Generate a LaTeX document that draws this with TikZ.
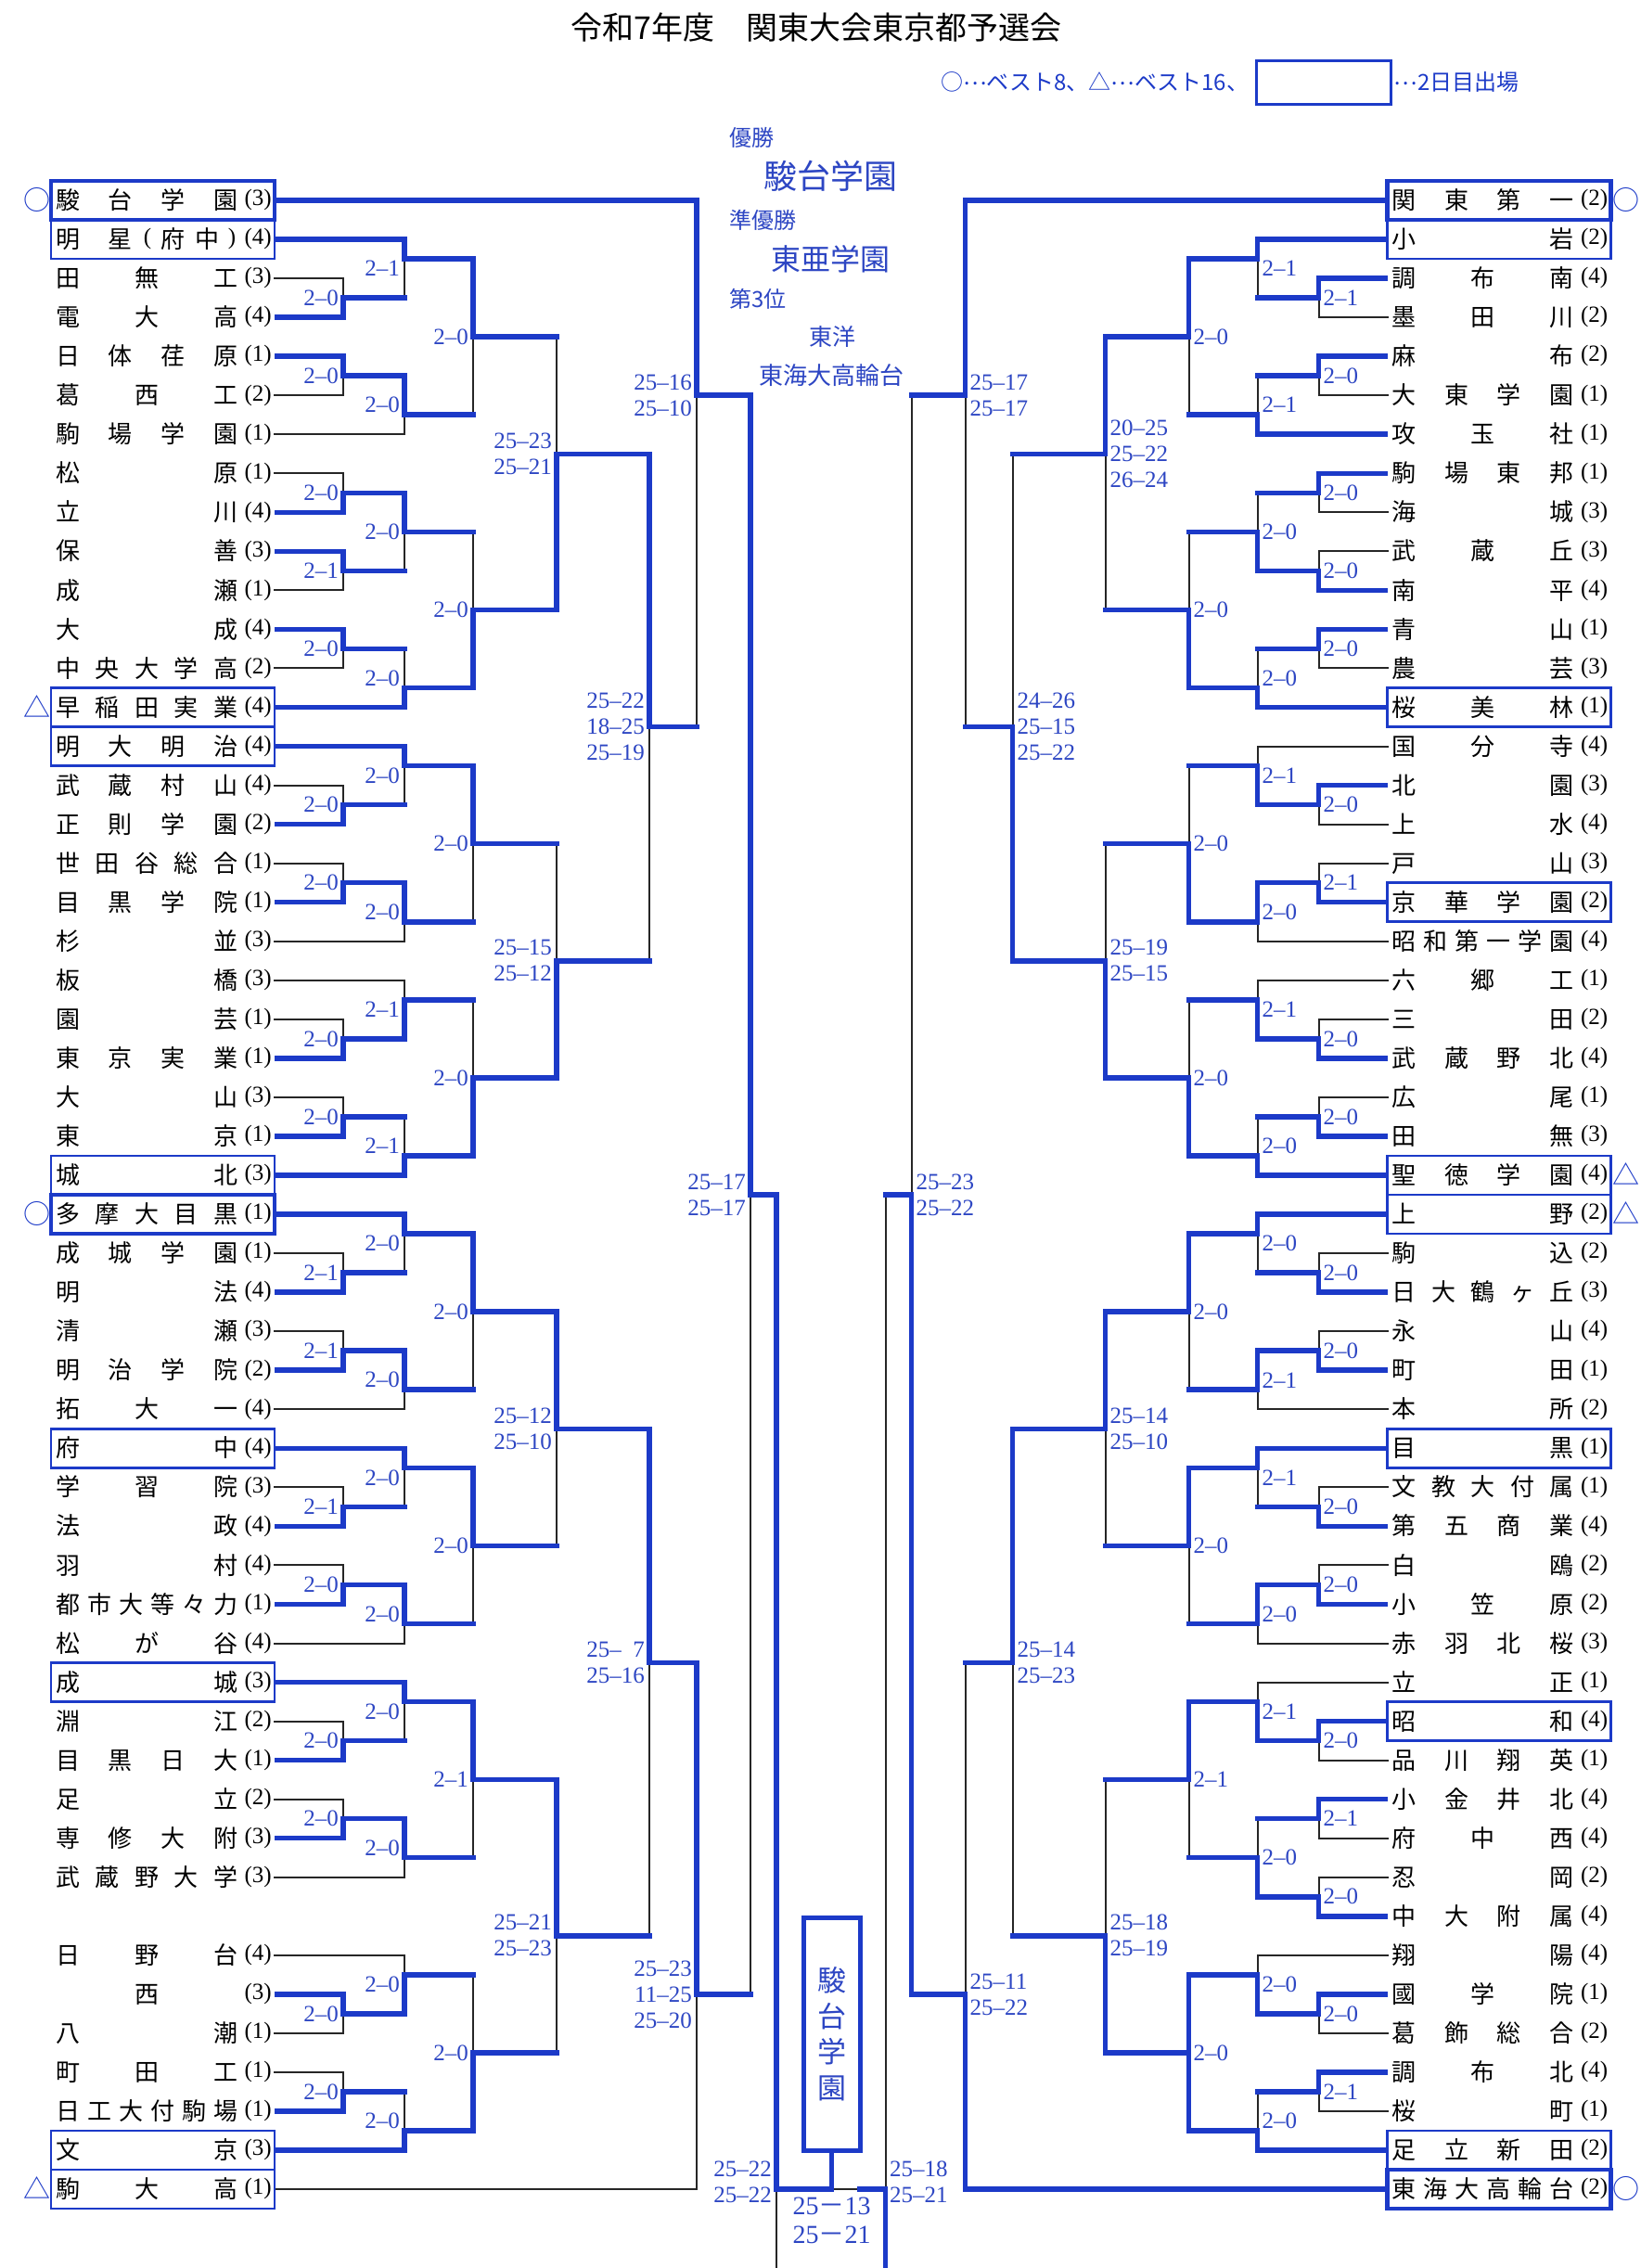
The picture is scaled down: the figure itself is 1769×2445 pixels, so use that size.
\documentclass[tikz,border=0pt]{standalone}
\usepackage{fontspec}
\setmainfont{Liberation Serif}
\newfontfamily\cjk{Noto Sans CJK JP}
\definecolor{bl}{RGB}{28,58,200}
\definecolor{lb}{RGB}{45,70,195}
\pgfdeclarelayer{bg}
\pgfdeclarelayer{back}
\pgfsetlayers{bg,back,main}
\newcounter{nd}
\tikzset{
 W/.style={draw=bl,line width=5.5pt,line cap=rect,line join=miter},
 Ls/.style={draw=black!85,line width=2pt,line cap=rect},
 nm/.style={font=\cjk\fontsize{26}{30}\selectfont,inner sep=0pt,anchor=base},
 num/.style={font=\fontsize{25}{30}\selectfont,inner sep=0pt,anchor=base east},
 sc/.style={font=\fontsize{25}{28}\selectfont,text=lb,inner sep=0pt},
 ct/.style={font=\cjk\fontsize{#1}{#1}\selectfont,text=lb,inner sep=0pt},
 mk/.style={font=\cjk\fontsize{29}{32}\selectfont,text=bl,inner sep=0pt,anchor=base},
 bxa/.style={draw=bl,line width=2.5pt},
 bxb/.style={draw=bl,line width=4.5pt},
}
\newcommand\RY[1]{(216+42.04*(#1))}
\newcommand\Mtch[6]{%
 \if t#5
  \draw[W] (#1,{\RY{#2}}) -- (#1,{\RY{#3}}) -- (#6,{\RY{#3}});
  \begin{pgfonlayer}{back}\draw[Ls] (#1,{\RY{#3}}) -- (#1,{\RY{#4}});\end{pgfonlayer}
 \else\if b#5
  \draw[W] (#1,{\RY{#4}}) -- (#1,{\RY{#3}}) -- (#6,{\RY{#3}});
  \begin{pgfonlayer}{back}\draw[Ls] (#1,{\RY{#2}}) -- (#1,{\RY{#3}});\end{pgfonlayer}
 \else
  \draw[W] (#1,{\RY{#2}}) -- (#1,{\RY{#4}});
  \draw[W] (#1,{\RY{#3}}) -- (#6,{\RY{#3}});
 \fi\fi}
\newcommand\LM[8]{\Mtch{#1}{#2}{#3}{#4}{#5}{#6}\stepcounter{nd}\node[sc,anchor=east,align=right] (s\arabic{nd}) at (#1-5,{\RY{#8}}) {#7};}
\newcommand\RM[8]{\Mtch{#1}{#2}{#3}{#4}{#5}{#6}\stepcounter{nd}\node[sc,anchor=west,align=left] (s\arabic{nd}) at (#1+5,{\RY{#8}}) {#7};}
\newcommand\TN[5]{%
 \foreach \tkch [count=\ti] in {#3} {\xdef\ncnt{\ti}}%
 \foreach \tkch [count=\ti] in {#3} {%
  \pgfmathsetmacro\xx{\ncnt==1 ? #1+85 : #1+170*(\ti-1)/max(\ncnt-1,1)}%
  \node[nm] (#5c\ti) at (\xx,{\RY{#2}+9.6}) {\tkch};}%
 \node[num] (#5n) at (#1+220,{\RY{#2}+5.8}) {(#4)};}
\newcommand\TL[5]{%
 \coordinate (#1) at (#2,{\RY{#3}});
 \if t#5 \draw[W,line cap=butt] (#1) -- (#4,{\RY{#3}});
 \else \begin{pgfonlayer}{back}\draw[Ls] (#1) -- (#4,{\RY{#3}});\end{pgfonlayer}\fi}
\newcommand\LT[5]{\TN{73}{#1}{#2}{#3}{Lt#1}\TL{L#1}{296}{#1}{#4}{#5}}
\newcommand\RT[5]{\TN{1513.5}{#1}{#2}{#3}{Rt#1}\TL{R#1}{1495.5}{#1}{#4}{#5}}
\newcommand\BX[3]{\draw[#3] (#1,{\RY{#2}-21}) rectangle ++(241,42);}
\newcommand\elp{\raisebox{6pt}{…}}
\begin{document}
\begin{tikzpicture}[x=1pt,y=-1pt]
\useasboundingbox (0,0) rectangle (1769,2445);
\begin{pgfonlayer}{bg}\fill[white] (0,0) rectangle (1769,2445);\end{pgfonlayer}
% title and legend
\node[font=\cjk\fontsize{34}{40}\selectfont,inner sep=0pt] (title) at (880,30) {令和7年度　関東大会東京都予選会};
\node[draw=bl,line width=3pt,minimum width=145pt,minimum height=47pt,inner sep=0pt] (lgbox) at (1426.5,88.5) {};
\node[ct=24,text=bl,anchor=east] (lg1) at ([xshift=-6pt]lgbox.west) {○\elp ベスト8、△\elp ベスト16、};
\node[ct=24,text=bl,anchor=west] (lg2) at ([xshift=2pt]lgbox.east) {\elp 2日目出場};
% results
\node[ct=24,anchor=west] (yu) at (786,148) {優勝};
\node[ct=36] (win) at (895,190) {駿台学園};
\node[ct=24,anchor=west] (ju) at (786,237) {準優勝};
\node[ct=32] (run) at (895,279) {東亜学園};
\node[ct=24,anchor=west] (th) at (786,322) {第3位};
\node[ct=25] (t1) at (897,363) {東洋};
\node[ct=26] (t2) at (896,405) {東海大高輪台};
% ---------- left teams
\LT{0}{駿,台,学,園}{3}{751}{t}
\node[nm] (Lt1c1) at (73,{\RY{1}+9.6}) {明};
\node[nm] (Lt1c2) at (129,{\RY{1}+9.6}) {星};
\node[num,anchor=base] (Lt1c3) at (159,{\RY{1}+5.8}) {(};
\node[nm] (Lt1c4) at (186,{\RY{1}+9.6}) {府};
\node[nm] (Lt1c5) at (223,{\RY{1}+9.6}) {中};
\node[num,anchor=base] (Lt1c6) at (250,{\RY{1}+5.8}) {)};
\node[num] (Lt1n) at (293,{\RY{1}+5.8}) {(4)};
\TL{L1}{296}{1}{436}{t}
\LT{2}{田,無,工}{3}{370}{n}
\LT{3}{電,大,高}{4}{370}{t}
\LT{4}{日,体,荏,原}{1}{370}{t}
\LT{5}{葛,西,工}{2}{370}{n}
\LT{6}{駒,場,学,園}{1}{436}{n}
\LT{7}{松,原}{1}{370}{n}
\LT{8}{立,川}{4}{370}{t}
\LT{9}{保,善}{3}{370}{t}
\LT{10}{成,瀬}{1}{370}{n}
\LT{11}{大,成}{4}{370}{t}
\LT{12}{中,央,大,学,高}{2}{370}{n}
\LT{13}{早,稲,田,実,業}{4}{436}{t}
\LT{14}{明,大,明,治}{4}{436}{t}
\LT{15}{武,蔵,村,山}{4}{370}{n}
\LT{16}{正,則,学,園}{2}{370}{t}
\LT{17}{世,田,谷,総,合}{1}{370}{n}
\LT{18}{目,黒,学,院}{1}{370}{t}
\LT{19}{杉,並}{3}{436}{n}
\LT{20}{板,橋}{3}{436}{n}
\LT{21}{園,芸}{1}{370}{n}
\LT{22}{東,京,実,業}{1}{370}{t}
\LT{23}{大,山}{3}{370}{n}
\LT{24}{東,京}{1}{370}{t}
\LT{25}{城,北}{3}{436}{t}
\LT{26}{多,摩,大,目,黒}{1}{436}{t}
\LT{27}{成,城,学,園}{1}{370}{n}
\LT{28}{明,法}{4}{370}{t}
\LT{29}{清,瀬}{3}{370}{n}
\LT{30}{明,治,学,院}{2}{370}{t}
\LT{31}{拓,大,一}{4}{436}{n}
\LT{32}{府,中}{4}{436}{t}
\LT{33}{学,習,院}{3}{370}{n}
\LT{34}{法,政}{4}{370}{t}
\LT{35}{羽,村}{4}{370}{n}
\LT{36}{都,市,大,等,々,力}{1}{370}{t}
\LT{37}{松,が,谷}{4}{436}{n}
\LT{38}{成,城}{3}{436}{t}
\LT{39}{淵,江}{2}{370}{n}
\LT{40}{目,黒,日,大}{1}{370}{t}
\LT{41}{足,立}{2}{370}{n}
\LT{42}{専,修,大,附}{3}{370}{t}
\LT{43}{武,蔵,野,大,学}{3}{436}{n}
\LT{45}{日,野,台}{4}{436}{n}
\LT{46}{西}{3}{370}{t}
\LT{47}{八,潮}{1}{370}{n}
\LT{48}{町,田,工}{1}{370}{n}
\LT{49}{日,工,大,付,駒,場}{1}{370}{t}
\LT{50}{文,京}{3}{436}{t}
\LT{51}{駒,大,高}{1}{751}{n}
% ---------- right teams
\RT{0}{関,東,第,一}{2}{1040.5}{t}
\RT{1}{小,岩}{2}{1355.5}{t}
\RT{2}{調,布,南}{4}{1421.5}{t}
\RT{3}{墨,田,川}{2}{1421.5}{n}
\RT{4}{麻,布}{2}{1421.5}{t}
\RT{5}{大,東,学,園}{1}{1421.5}{n}
\RT{6}{攻,玉,社}{1}{1355.5}{t}
\RT{7}{駒,場,東,邦}{1}{1421.5}{t}
\RT{8}{海,城}{3}{1421.5}{n}
\RT{9}{武,蔵,丘}{3}{1421.5}{n}
\RT{10}{南,平}{4}{1421.5}{t}
\RT{11}{青,山}{1}{1421.5}{t}
\RT{12}{農,芸}{3}{1421.5}{n}
\RT{13}{桜,美,林}{1}{1355.5}{t}
\RT{14}{国,分,寺}{4}{1355.5}{n}
\RT{15}{北,園}{3}{1421.5}{t}
\RT{16}{上,水}{4}{1421.5}{n}
\RT{17}{戸,山}{3}{1421.5}{n}
\RT{18}{京,華,学,園}{2}{1421.5}{t}
\RT{19}{昭,和,第,一,学,園}{4}{1355.5}{n}
\RT{20}{六,郷,工}{1}{1355.5}{n}
\RT{21}{三,田}{2}{1421.5}{n}
\RT{22}{武,蔵,野,北}{4}{1421.5}{t}
\RT{23}{広,尾}{1}{1421.5}{n}
\RT{24}{田,無}{3}{1421.5}{t}
\RT{25}{聖,徳,学,園}{4}{1355.5}{t}
\RT{26}{上,野}{2}{1355.5}{t}
\RT{27}{駒,込}{2}{1421.5}{n}
\RT{28}{日,大,鶴,ヶ,丘}{3}{1421.5}{t}
\RT{29}{永,山}{4}{1421.5}{n}
\RT{30}{町,田}{1}{1421.5}{t}
\RT{31}{本,所}{2}{1355.5}{n}
\RT{32}{目,黒}{1}{1355.5}{t}
\RT{33}{文,教,大,付,属}{1}{1421.5}{n}
\RT{34}{第,五,商,業}{4}{1421.5}{t}
\RT{35}{白,鴎}{2}{1421.5}{n}
\RT{36}{小,笠,原}{2}{1421.5}{t}
\RT{37}{赤,羽,北,桜}{3}{1355.5}{n}
\RT{38}{立,正}{1}{1355.5}{n}
\RT{39}{昭,和}{4}{1421.5}{t}
\RT{40}{品,川,翔,英}{1}{1421.5}{n}
\RT{41}{小,金,井,北}{4}{1421.5}{t}
\RT{42}{府,中,西}{4}{1421.5}{n}
\RT{43}{忍,岡}{2}{1421.5}{n}
\RT{44}{中,大,附,属}{4}{1421.5}{t}
\RT{45}{翔,陽}{4}{1355.5}{n}
\RT{46}{國,学,院}{1}{1421.5}{t}
\RT{47}{葛,飾,総,合}{2}{1421.5}{n}
\RT{48}{調,布,北}{4}{1421.5}{t}
\RT{49}{桜,町}{1}{1421.5}{n}
\RT{50}{足,立,新,田}{2}{1355.5}{t}
\RT{51}{東,海,大,高,輪,台}{2}{1040.5}{t}
% ---------- boxes
\BX{55}{1}{bxa}\BX{55}{13}{bxa}\BX{55}{14}{bxa}\BX{55}{25}{bxa}
\BX{55}{32}{bxa}\BX{55}{38}{bxa}\BX{55}{50}{bxa}\BX{55}{51}{bxa}
\BX{55}{0}{bxb}\BX{55}{26}{bxb}
\BX{1495.5}{1}{bxa}\BX{1495.5}{13}{bxa}\BX{1495.5}{18}{bxa}\BX{1495.5}{25}{bxa}
\BX{1495.5}{26}{bxa}\BX{1495.5}{32}{bxa}\BX{1495.5}{39}{bxa}\BX{1495.5}{50}{bxa}
\BX{1495.5}{0}{bxb}\BX{1495.5}{51}{bxb}
% ---------- markers
\node[mk] (mL0) at (39.5,{\RY{0}+10.5}) {○};
\node[mk] (mL26) at (39.5,{\RY{26}+10.5}) {○};
\node[mk] (mL13) at (39.5,{\RY{13}+10.5}) {△};
\node[mk] (mL51) at (39.5,{\RY{51}+10.5}) {△};
\node[mk] (mR0) at (1753,{\RY{0}+10.5}) {○};
\node[mk] (mR51) at (1753,{\RY{51}+10.5}) {○};
\node[mk] (mR25) at (1753,{\RY{25}+10.5}) {△};
\node[mk] (mR26) at (1753,{\RY{26}+10.5}) {△};
% ---------- left matches
\LM{370}{2}{2.5}{3}{b}{436}{2--0}{2.5}
\LM{370}{4}{4.5}{5}{t}{436}{2--0}{4.5}
\LM{370}{7}{7.5}{8}{b}{436}{2--0}{7.5}
\LM{370}{9}{9.5}{10}{t}{436}{2--1}{9.5}
\LM{370}{11}{11.5}{12}{t}{436}{2--0}{11.5}
\LM{370}{15}{15.5}{16}{b}{436}{2--0}{15.5}
\LM{370}{17}{17.5}{18}{b}{436}{2--0}{17.5}
\LM{370}{21}{21.5}{22}{b}{436}{2--0}{21.5}
\LM{370}{23}{23.5}{24}{b}{436}{2--0}{23.5}
\LM{370}{27}{27.5}{28}{b}{436}{2--1}{27.5}
\LM{370}{29}{29.5}{30}{b}{436}{2--1}{29.5}
\LM{370}{33}{33.5}{34}{b}{436}{2--1}{33.5}
\LM{370}{35}{35.5}{36}{b}{436}{2--0}{35.5}
\LM{370}{39}{39.5}{40}{b}{436}{2--0}{39.5}
\LM{370}{41}{41.5}{42}{b}{436}{2--0}{41.5}
\LM{370}{46}{46.5}{47}{t}{436}{2--0}{46.5}
\LM{370}{48}{48.5}{49}{b}{436}{2--0}{48.5}
\LM{436}{1}{1.5}{2.5}{t}{510}{2--1}{1.75}
\LM{436}{4.5}{5.5}{6}{t}{510}{2--0}{5.25}
\LM{436}{7.5}{8.5}{9.5}{t}{510}{2--0}{8.5}
\LM{436}{11.5}{12.5}{13}{b}{510}{2--0}{12.25}
\LM{436}{14}{14.5}{15.5}{t}{510}{2--0}{14.75}
\LM{436}{17.5}{18.5}{19}{t}{510}{2--0}{18.25}
\LM{436}{20}{20.5}{21.5}{b}{510}{2--1}{20.75}
\LM{436}{23.5}{24.5}{25}{b}{510}{2--1}{24.25}
\LM{436}{26}{26.5}{27.5}{t}{510}{2--0}{26.75}
\LM{436}{29.5}{30.5}{31}{t}{510}{2--0}{30.25}
\LM{436}{32}{32.5}{33.5}{t}{510}{2--0}{32.75}
\LM{436}{35.5}{36.5}{37}{t}{510}{2--0}{36.25}
\LM{436}{38}{38.5}{39.5}{t}{510}{2--0}{38.75}
\LM{436}{41.5}{42.5}{43}{t}{510}{2--0}{42.25}
\LM{436}{45}{45.5}{46.5}{b}{510}{2--0}{45.75}
\LM{436}{48.5}{49.5}{50}{b}{510}{2--0}{49.25}
\LM{510}{1.5}{3.5}{5.5}{t}{600}{2--0}{3.5}
\LM{510}{8.5}{10.5}{12.5}{b}{600}{2--0}{10.5}
\LM{510}{14.5}{16.5}{18.5}{t}{600}{2--0}{16.5}
\LM{510}{20.5}{22.5}{24.5}{b}{600}{2--0}{22.5}
\LM{510}{26.5}{28.5}{30.5}{t}{600}{2--0}{28.5}
\LM{510}{32.5}{34.5}{36.5}{t}{600}{2--0}{34.5}
\LM{510}{38.5}{40.5}{42.5}{t}{600}{2--1}{40.5}
\LM{510}{45.5}{47.5}{49.5}{b}{600}{2--0}{47.5}
\LM{600}{3.5}{6.5}{10.5}{b}{700}{25--23\\25--21}{6.5}
\LM{600}{16.5}{19.5}{22.5}{b}{700}{25--15\\25--12}{19.5}
\LM{600}{28.5}{31.5}{34.5}{t}{700}{25--12\\25--10}{31.5}
\LM{600}{40.5}{44.5}{47.5}{t}{700}{25--21\\25--23}{44.5}
\LM{700}{6.5}{13.5}{19.5}{t}{751}{25--22\\18--25\\25--19}{13.5}
\LM{700}{31.5}{37.5}{44.5}{t}{751}{25--\phantom{0}7\\25--16}{37.5}
\LM{751}{0}{5}{13.5}{t}{809}{25--16\\25--10}{5}
\LM{751}{37.5}{46}{51}{t}{809}{25--23\\11--25\\25--20}{46}
\LM{809}{5}{25.5}{46}{t}{837}{25--17\\25--17}{25.5}
% ---------- right matches
\RM{1421.5}{2}{2.5}{3}{t}{1355.5}{2--1}{2.5}
\RM{1421.5}{4}{4.5}{5}{t}{1355.5}{2--0}{4.5}
\RM{1421.5}{7}{7.5}{8}{t}{1355.5}{2--0}{7.5}
\RM{1421.5}{9}{9.5}{10}{b}{1355.5}{2--0}{9.5}
\RM{1421.5}{11}{11.5}{12}{t}{1355.5}{2--0}{11.5}
\RM{1421.5}{15}{15.5}{16}{t}{1355.5}{2--0}{15.5}
\RM{1421.5}{17}{17.5}{18}{b}{1355.5}{2--1}{17.5}
\RM{1421.5}{21}{21.5}{22}{b}{1355.5}{2--0}{21.5}
\RM{1421.5}{23}{23.5}{24}{b}{1355.5}{2--0}{23.5}
\RM{1421.5}{27}{27.5}{28}{b}{1355.5}{2--0}{27.5}
\RM{1421.5}{29}{29.5}{30}{b}{1355.5}{2--0}{29.5}
\RM{1421.5}{33}{33.5}{34}{b}{1355.5}{2--0}{33.5}
\RM{1421.5}{35}{35.5}{36}{b}{1355.5}{2--0}{35.5}
\RM{1421.5}{39}{39.5}{40}{t}{1355.5}{2--0}{39.5}
\RM{1421.5}{41}{41.5}{42}{t}{1355.5}{2--1}{41.5}
\RM{1421.5}{43}{43.5}{44}{b}{1355.5}{2--0}{43.5}
\RM{1421.5}{46}{46.5}{47}{t}{1355.5}{2--0}{46.5}
\RM{1421.5}{48}{48.5}{49}{t}{1355.5}{2--1}{48.5}
\RM{1355.5}{1}{1.5}{2.5}{t}{1281.5}{2--1}{1.75}
\RM{1355.5}{4.5}{5.5}{6}{b}{1281.5}{2--1}{5.25}
\RM{1355.5}{7.5}{8.5}{9.5}{b}{1281.5}{2--0}{8.5}
\RM{1355.5}{11.5}{12.5}{13}{b}{1281.5}{2--0}{12.25}
\RM{1355.5}{14}{14.5}{15.5}{b}{1281.5}{2--1}{14.75}
\RM{1355.5}{17.5}{18.5}{19}{t}{1281.5}{2--0}{18.25}
\RM{1355.5}{20}{20.5}{21.5}{b}{1281.5}{2--1}{20.75}
\RM{1355.5}{23.5}{24.5}{25}{b}{1281.5}{2--0}{24.25}
\RM{1355.5}{26}{26.5}{27.5}{t}{1281.5}{2--0}{26.75}
\RM{1355.5}{29.5}{30.5}{31}{t}{1281.5}{2--1}{30.25}
\RM{1355.5}{32}{32.5}{33.5}{t}{1281.5}{2--1}{32.75}
\RM{1355.5}{35.5}{36.5}{37}{t}{1281.5}{2--0}{36.25}
\RM{1355.5}{38}{38.5}{39.5}{b}{1281.5}{2--1}{38.75}
\RM{1355.5}{41.5}{42.5}{43.5}{b}{1281.5}{2--0}{42.5}
\RM{1355.5}{45}{45.5}{46.5}{b}{1281.5}{2--0}{45.75}
\RM{1355.5}{48.5}{49.5}{50}{b}{1281.5}{2--0}{49.25}
\RM{1281.5}{1.5}{3.5}{5.5}{t}{1191.5}{2--0}{3.5}
\RM{1281.5}{8.5}{10.5}{12.5}{b}{1191.5}{2--0}{10.5}
\RM{1281.5}{14.5}{16.5}{18.5}{b}{1191.5}{2--0}{16.5}
\RM{1281.5}{20.5}{22.5}{24.5}{b}{1191.5}{2--0}{22.5}
\RM{1281.5}{26.5}{28.5}{30.5}{t}{1191.5}{2--0}{28.5}
\RM{1281.5}{32.5}{34.5}{36.5}{t}{1191.5}{2--0}{34.5}
\RM{1281.5}{38.5}{40.5}{42.5}{t}{1191.5}{2--1}{40.5}
\RM{1281.5}{45.5}{47.5}{49.5}{x}{1191.5}{2--0}{47.5}
\RM{1191.5}{3.5}{6.5}{10.5}{t}{1091.5}{20--25\\25--22\\26--24}{6.5}
\RM{1191.5}{16.5}{19.5}{22.5}{b}{1091.5}{25--19\\25--15}{19.5}
\RM{1191.5}{28.5}{31.5}{34.5}{t}{1091.5}{25--14\\25--10}{31.5}
\RM{1191.5}{40.5}{44.5}{47.5}{b}{1091.5}{25--18\\25--19}{44.5}
\RM{1091.5}{6.5}{13.5}{19.5}{b}{1040.5}{24--26\\25--15\\25--22}{13.5}
\RM{1091.5}{31.5}{37.5}{44.5}{t}{1040.5}{25--14\\25--23}{37.5}
\RM{1040.5}{0}{5}{13.5}{t}{982.5}{25--17\\25--17}{5}
\RM{1040.5}{37.5}{46}{51}{b}{982.5}{25--11\\25--22}{46}
\RM{982.5}{5}{25.5}{46}{b}{954.5}{25--23\\25--22}{25.5}
% ---------- final
\node[draw=bl,line width=5pt,minimum width=61pt,minimum height=251pt,inner sep=0pt,font=\cjk\fontsize{31}{38.5}\selectfont,text=lb,align=center] (cbox) at (896.5,2192.5) {駿\\台\\学\\園};
\coordinate (fm) at (896.5,{\RY{51}});
\coordinate (fl) at (837,{\RY{51}});
\coordinate (fr) at (954.5,{\RY{51}});
\coordinate (frs) at (927,{\RY{51}});
\coordinate (bl1) at (837,2445);
\coordinate (br1) at (954.5,2445);
\draw[W] (837,{\RY{25.5}}) -- (fl) -- (fm) -- (cbox.south);
\begin{pgfonlayer}{back}
\draw[Ls] (fm) -- (frs);
\draw[Ls] (fl) -- (bl1);
\draw[Ls] (954.5,{\RY{25.5}}) -- (fr);
\end{pgfonlayer}
\draw[W] (frs) -- (fr) -- (br1);
\node[sc,anchor=east,align=right] (fsl) at (832,2352) {25--22\\25--22};
\node[sc,anchor=west,align=left] (fsr) at (959,2352) {25--18\\25--21};
\node[sc,font=\fontsize{28}{31}\selectfont,align=center] (fsc) at (896.5,2394) {25{\cjk －}13\\25{\cjk －}21};
\end{tikzpicture}
\end{document}
